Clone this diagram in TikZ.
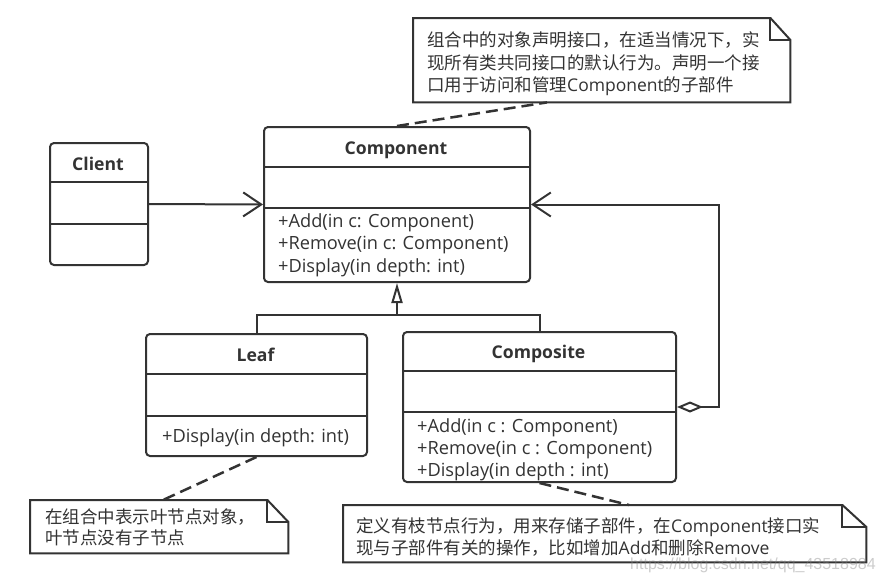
\documentclass[tikz,border=0pt]{standalone}
\usepackage{fontspec}
\setmainfont{Open Sans}
\newfontfamily\cjk{Noto Sans CJK SC}
\newfontfamily\wmfont{Liberation Sans}
\usetikzlibrary{arrows.meta,calc}
\definecolor{ink}{HTML}{333333}
\begin{document}
\begin{tikzpicture}[x=1pt,y=-1pt,
  cls/.style={draw=ink, line width=2pt, rounded corners=4pt, inner sep=0, anchor=north west},
  sepline/.style={draw=ink, line width=1.8pt},
  ttl/.style={font=\fontsize{17.6}{20}\selectfont\bfseries, text=ink, anchor=base, inner sep=0},
  mth/.style={font=\fontsize{18.2}{20}\selectfont, text=ink, anchor=base west, inner sep=0},
  ntxt/.style={font=\fontsize{17.5}{22}\selectfont, text=ink, anchor=base west, inner sep=0},
  notebox/.style={inner sep=0, anchor=north west},
  noteline/.style={draw=ink, line width=2pt, line join=miter},
  dashln/.style={draw=ink, line width=2.5pt, dash pattern=on 12pt off 6pt},
  conn/.style={draw=ink, line width=2pt},
  openhead/.style={-{Straight Barb[length=18pt,width=24pt]}},
]
\useasboundingbox[fill=white] (0,0) rectangle (882,581);

% ---- classes ----
\node[cls, minimum width=98pt, minimum height=122pt] (client) at (49,142) {};
\draw[sepline] (49,182) -- (147,182);
\draw[sepline] (49,224) -- (147,224);
\node[ttl] (clientT) at (98,170) {Client};

\node[cls, minimum width=266pt, minimum height=155pt] (comp) at (263,126) {};
\draw[sepline] (263,167) -- (529,167);
\draw[draw=ink, line width=2.4pt] (263,208) -- (529,208);
\node[ttl] (compT) at (396,154) {Component};
\node[mth] (cm1) at (278,227) {+Add(in c: Component)};
\node[mth] (cm2) at (278,249.5) {+Remove(in c: Component)};
\node[mth] (cm3) at (278,272) {+Display(in depth: int)};

\node[cls, minimum width=221pt, minimum height=122pt] (leaf) at (145,333) {};
\draw[sepline] (145,374) -- (366,374);
\draw[sepline] (145,416) -- (366,416);
\node[ttl] (leafT) at (255.5,361) {Leaf};
\node[mth] (lm1) at (162,442) {+Display(in depth: int)};

\node[cls, minimum width=273pt, minimum height=150pt] (compo) at (402,331) {};
\draw[sepline] (402,371) -- (675,371);
\draw[draw=ink, line width=2.2pt] (402,412) -- (675,412);
\node[ttl] (compoT) at (538.5,358) {Composite};
\node[mth] (pm1) at (417,432) {+Add(in c : Component)};
\node[mth] (pm2) at (417,454) {+Remove(in c : Component)};
\node[mth] (pm3) at (417,476) {+Display(in depth : int)};

% ---- notes ----
\node[notebox, minimum width=377pt, minimum height=84pt] (n1) at (413,18) {};
\draw[noteline] (n1.north west) -- ($(n1.north east)+(-20,0)$) -- ($(n1.north east)+(0,22)$) -- (n1.south east) -- (n1.south west) -- cycle;
\draw[noteline] ($(n1.north east)+(-20,0)$) -- ($(n1.north east)+(-20,22)$) -- ($(n1.north east)+(0,22)$);
\node[ntxt] (n1a) at (427,46.5) {\cjk 组合中的对象声明接口，在适当情况下，实};
\node[ntxt] (n1b) at (427,69) {\cjk 现所有类共同接口的默认行为。声明一个接};
\node[ntxt] (n1c) at (427,91.5) {{\cjk 口用于访问和管理}Component{\cjk 的子部件}};

\node[notebox, minimum width=258pt, minimum height=53pt] (n2) at (30,500) {};
\draw[noteline] (n2.north west) -- ($(n2.north east)+(-21,0)$) -- ($(n2.north east)+(0,22)$) -- (n2.south east) -- (n2.south west) -- cycle;
\draw[noteline] ($(n2.north east)+(-21,0)$) -- ($(n2.north east)+(-21,22)$) -- ($(n2.north east)+(0,22)$);
\node[ntxt] (n2a) at (45,523) {\cjk 在组合中表示叶节点对象，};
\node[ntxt] (n2b) at (45,544) {\cjk 叶节点没有子节点};

\node[notebox, minimum width=523pt, minimum height=57pt] (n3) at (343,505) {};
\draw[noteline] (n3.north west) -- ($(n3.north east)+(-24,0)$) -- ($(n3.north east)+(0,22)$) -- (n3.south east) -- (n3.south west) -- cycle;
\draw[noteline] ($(n3.north east)+(-24,0)$) -- ($(n3.north east)+(-24,22)$) -- ($(n3.north east)+(0,22)$);
\node[ntxt] (n3a) at (356,532) {{\cjk 定义有枝节点行为，用来存储子部件，在}Component{\cjk 接口实}};
\node[ntxt] (n3b) at (356,554) {{\cjk 现与子部件有关的操作，比如增加}Add{\cjk 和删除}Remove};

% ---- connectors ----
\draw[conn, openhead] (client.east) -- (comp.west);

\coordinate (gj) at (396,315);
\draw[conn] (leaf.north) -- (leaf.north |- gj) -- (compo.north |- gj) -- (compo.north);
\draw[conn, -{Triangle[open, length=20pt, width=11pt]}] (comp.south |- gj) -- (comp.south);

\draw[conn, {Diamond[open, length=26pt, width=11pt]}-{Straight Barb[length=18pt,width=24pt]}] (compo.east) -- ++(42,0) |- (comp.east);

\draw[dashln] (comp.north) -- ($(n1.south west)+(134,0)$);
\draw[dashln] (leaf.south) -- ($(n2.north west)+(133,0)$);
\draw[dashln] (compo.south) -- ($(n3.north west)+(286,0)$);

% ---- watermark ----
\node[font=\wmfont\fontsize{16}{18}\selectfont, text=gray, opacity=0.4, anchor=base west, inner sep=0] (wmk) at (630,569) {https://blog.csdn.net/qq\_43518984};
\end{tikzpicture}
\end{document}
